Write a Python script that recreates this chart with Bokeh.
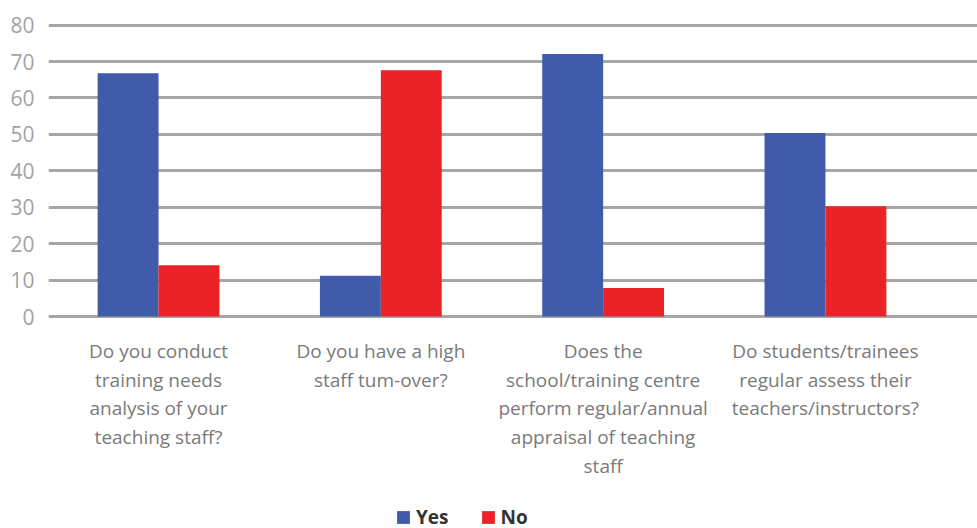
import numpy as np
from bokeh.plotting import figure
from bokeh.models import Range1d, FixedTicker, Legend, LegendItem, ColumnDataSource
from bokeh.transform import dodge
from bokeh.core.properties import value
from bokeh.embed import file_html
from bokeh.resources import INLINE

categories = [
    "Do you conduct\ntraining needs\nanalysis of your\nteaching staff?",
    "Do you have a high\nstaff tum-over?",
    "Does the\nschool/training centre\nperform regular/annual\nappraisal of teaching\nstaff",
    "Do students/trainees\nregular assess their\nteachers/instructors?",
]
yes_values = [66.8, 11.2, 72.1, 50.4]
no_values = [14.1, 67.6, 7.8, 30.3]
y_ticks = [0, 10, 20, 30, 40, 50, 60, 70, 80]

BLUE = "#3f5ba9"
RED = "#ec2229"
FONT = "Open Sans"

idx = np.arange(len(categories))
bw = 0.274
label_y = -5.8  # category labels sit just below the zero line
src = ColumnDataSource(dict(x=idx, yes=yes_values, no=no_values, cat=categories,
                            ly=[label_y] * len(categories)))

p = figure(width=977, height=528, output_backend="svg", toolbar_location=None,
           x_range=Range1d(-0.495, 3.684), y_range=Range1d(-58.2, 80.45),
           min_border_left=48, min_border_right=0, min_border_top=23, min_border_bottom=0)
p.outline_line_color = None

r_yes = p.vbar(x=dodge("x", -bw / 2, range=p.x_range), top="yes", width=bw, source=src,
               fill_color=BLUE, line_color=None)
r_no = p.vbar(x=dodge("x", bw / 2, range=p.x_range), top="no", width=bw, source=src,
              fill_color=RED, line_color=None)

p.text(x="x", y="ly", text="cat", source=src, text_align="center", text_baseline="top",
       text_font=value(FONT), text_font_size="19px", text_color="#7a7a7a",
       text_line_height=1.11)

p.xaxis.visible = False
p.xgrid.grid_line_color = None

p.yaxis.ticker = FixedTicker(ticks=y_ticks)
p.yaxis.axis_line_color = None
p.yaxis.major_tick_line_color = None
p.yaxis.minor_tick_line_color = None
p.yaxis.major_label_text_font = FONT
p.yaxis.major_label_text_font_size = "21px"
p.yaxis.major_label_text_color = "#a3a3a3"
p.yaxis.major_label_standoff = 8

p.ygrid.grid_line_color = "#a6a6a6"
p.ygrid.grid_line_width = 3

legend = Legend(items=[LegendItem(label="Yes", renderers=[r_yes]),
                       LegendItem(label="No", renderers=[r_no])],
                orientation="horizontal", location=(347, -2),
                label_text_font=FONT, label_text_font_size="19px",
                label_text_font_style="bold", label_text_color="#333333",
                glyph_width=16, glyph_height=16, spacing=31, padding=0,
                margin=0, border_line_color=None, background_fill_alpha=0,
                label_standoff=5, label_height=16)
p.add_layout(legend, "center")

open("out.html", "w").write(file_html(p, INLINE))
